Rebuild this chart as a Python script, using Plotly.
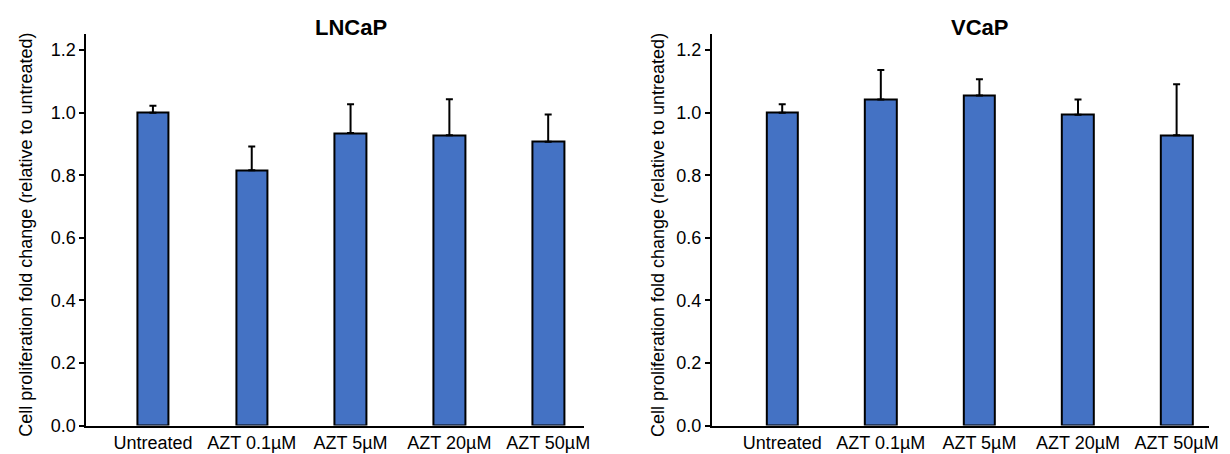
import plotly.graph_objects as go

categories = ["Untreated", "AZT 0.1µM", "AZT 5µM", "AZT 20µM", "AZT 50µM"]
lncap_values = [1.0, 0.816, 0.935, 0.928, 0.907]
lncap_err = [0.022, 0.076, 0.092, 0.115, 0.087]
vcap_values = [1.0, 1.042, 1.055, 0.993, 0.928]
vcap_err = [0.027, 0.094, 0.052, 0.049, 0.163]
panel_titles = ["LNCaP", "VCaP"]
y_title = "Cell proliferation fold change (relative to untreated)"
y_ticks = [0.0, 0.2, 0.4, 0.6, 0.8, 1.0, 1.2]

FONT = "Arial, Liberation Sans, sans-serif"
BAR = "#4472C4"
W, H = 1230, 454

fig = go.Figure()
for i, (vals, errs) in enumerate([(lncap_values, lncap_err), (vcap_values, vcap_err)]):
    xa = "x" if i == 0 else "x2"
    ya = "y" if i == 0 else "y2"
    fig.add_trace(go.Bar(
        x=list(range(len(categories))), y=vals, width=0.32,
        marker=dict(color=BAR, line=dict(color="black", width=2)),
        error_y=dict(type="data", symmetric=False, array=errs,
                     arrayminus=[0] * len(errs), color="black",
                     thickness=2, width=3.5),
        xaxis=xa, yaxis=ya, showlegend=False,
    ))

common_x = dict(tickmode="array", tickvals=list(range(len(categories))),
                ticktext=categories, showline=True, linecolor="black",
                linewidth=2, ticks="", showgrid=False, zeroline=False,
                tickfont=dict(family=FONT, size=18, color="black"))
common_y = dict(range=[0, 1.25], tickmode="array", tickvals=y_ticks,
                ticktext=[f"{v:.1f}" for v in y_ticks],
                showline=True, linecolor="black", linewidth=2,
                ticks="outside", ticklen=5, tickwidth=2, tickcolor="black",
                showgrid=False, zeroline=False,
                tickfont=dict(family=FONT, size=18, color="black"))

ydom = [(H - 427) / H, (H - 27) / H]
fig.update_layout(
    width=W, height=H, margin=dict(l=0, r=0, t=0, b=0),
    paper_bgcolor="white", plot_bgcolor="white",
    xaxis=dict(domain=[79 / W, 580 / W], range=[-0.673, 4.36], anchor="y", **common_x),
    yaxis=dict(domain=ydom, anchor="x", **common_y),
    xaxis2=dict(domain=[709 / W, 1210 / W], range=[-0.714, 4.33], anchor="y2", **common_x),
    yaxis2=dict(domain=ydom, anchor="x2", **common_y),
    bargap=0,
)

annotations = []
for i, (xref, xpix) in enumerate([("x", 18), ("x2", 655)]):
    annotations.append(dict(
        text=f"<b>{panel_titles[i]}</b>", xref=xref, yref="paper",
        x=2, y=(H - 20) / H, showarrow=False, xanchor="center", yanchor="middle",
        font=dict(family=FONT, size=22, color="black")))
    annotations.append(dict(
        text=y_title, xref="paper", yref="paper", x=xpix / W, y=(H - 232) / H,
        textangle=-90, showarrow=False, xanchor="center", yanchor="middle",
        font=dict(family=FONT, size=18, color="black")))
fig.update_layout(annotations=annotations)

fig.write_html("out.html")
